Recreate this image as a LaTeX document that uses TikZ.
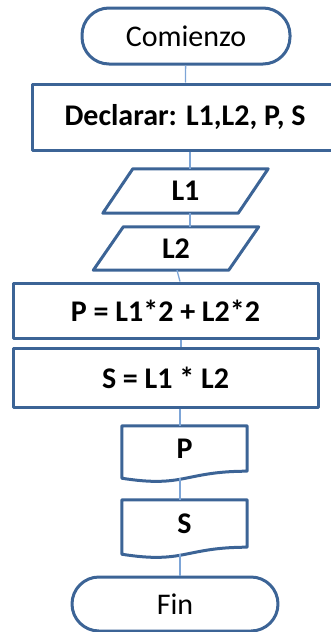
\documentclass[tikz,border=0pt]{standalone}
\usepackage{fontspec}
\setmainfont{Carlito}
\usetikzlibrary{calc}
\definecolor{boxline}{RGB}{60,100,150}
\definecolor{linkline}{RGB}{125,165,215}
% document symbol with a wavy bottom
\newcommand\docwave[1]{%
  \draw[box] (#1.north west) -- (#1.north east) -- (#1.south east)
    .. controls (#1.south) and ($(#1.south)+(0,17)$) .. ($(#1.south west)+(0,7)$) -- cycle;}
% input symbol, slanted to the right
\newcommand\slantbox[1]{%
  \draw[box] ($(#1.north west)+(15,0)$) -- ($(#1.north east)+(15,0)$)
    -- ($(#1.south east)+(-15,0)$) -- ($(#1.south west)+(-15,0)$) -- cycle;}
\begin{document}
\begin{tikzpicture}[x=1pt,y=-1pt,
    font=\fontsize{30}{36}\selectfont,
    box/.style={draw=boxline,line width=3pt,line join=round},
    term/.style={box,rectangle,rounded corners=27pt,minimum width=208pt,minimum height=56pt},
    proc/.style={box,rectangle,minimum width=305pt,font=\fontsize{30}{36}\selectfont\bfseries},
    io/.style={rectangle,minimum height=44pt,minimum width=135pt,font=\fontsize{30}{36}\selectfont\bfseries},
    doc/.style={rectangle,minimum width=125pt,font=\fontsize{30}{36}\selectfont\bfseries},
    link/.style={draw=linkline,line width=1.3pt}]
  \useasboundingbox (0,0) rectangle (331,632);
  \clip (0,0) rectangle (331,632);
  \node[term] (start) at (186,36) {Comienzo};
  \node[proc,minimum width=306pt,minimum height=66pt] (decl) at (185,117) {Declarar: L1,L2, P, S};
  \node[io] (l1) at (185.5,191) {L1};
  \slantbox{l1}
  \node[io,minimum height=43pt] (l2) at (176,248.5) {L2};
  \slantbox{l2}
  \node[proc,minimum height=55pt] (pbox) at (165.5,310.5) {P = L1*2 + L2*2};
  \node[proc,minimum height=59pt] (sbox) at (165.5,377.5) {S = L1 * L2};
  \node[doc,minimum height=45pt] (pdoc) at (184.5,448.5) {P};
  \docwave{pdoc}
  \node[doc,minimum height=47pt] (sdoc) at (184.5,523.5) {S};
  \docwave{sdoc}
  \node[term,minimum width=206pt,minimum height=54pt] (stop) at (175,604) {Fin};
  \begin{scope}[link]
    \draw (start) -- (decl);
    \draw ([xshift=5pt]decl.south) -- ([xshift=4.5pt]l1.north);
    \draw ([xshift=4.5pt]l1.south) -- ([xshift=14pt]l2.north);
    \draw ([xshift=1pt]l2.south) -- ([xshift=14.5pt]pbox.north);
    \draw ([xshift=15.5pt]pbox.south) -- ([xshift=15.5pt]sbox.north);
    \draw ([xshift=14.5pt]sbox.south) -- ([xshift=-4.5pt]pdoc.north);
    \draw ([xshift=-4.5pt,yshift=-7pt]pdoc.south) -- ([xshift=-4.5pt]sdoc.north);
    \draw ([xshift=-4.5pt,yshift=-7pt]sdoc.south) -- ([xshift=5pt]stop.north);
  \end{scope}
\end{tikzpicture}
\end{document}
